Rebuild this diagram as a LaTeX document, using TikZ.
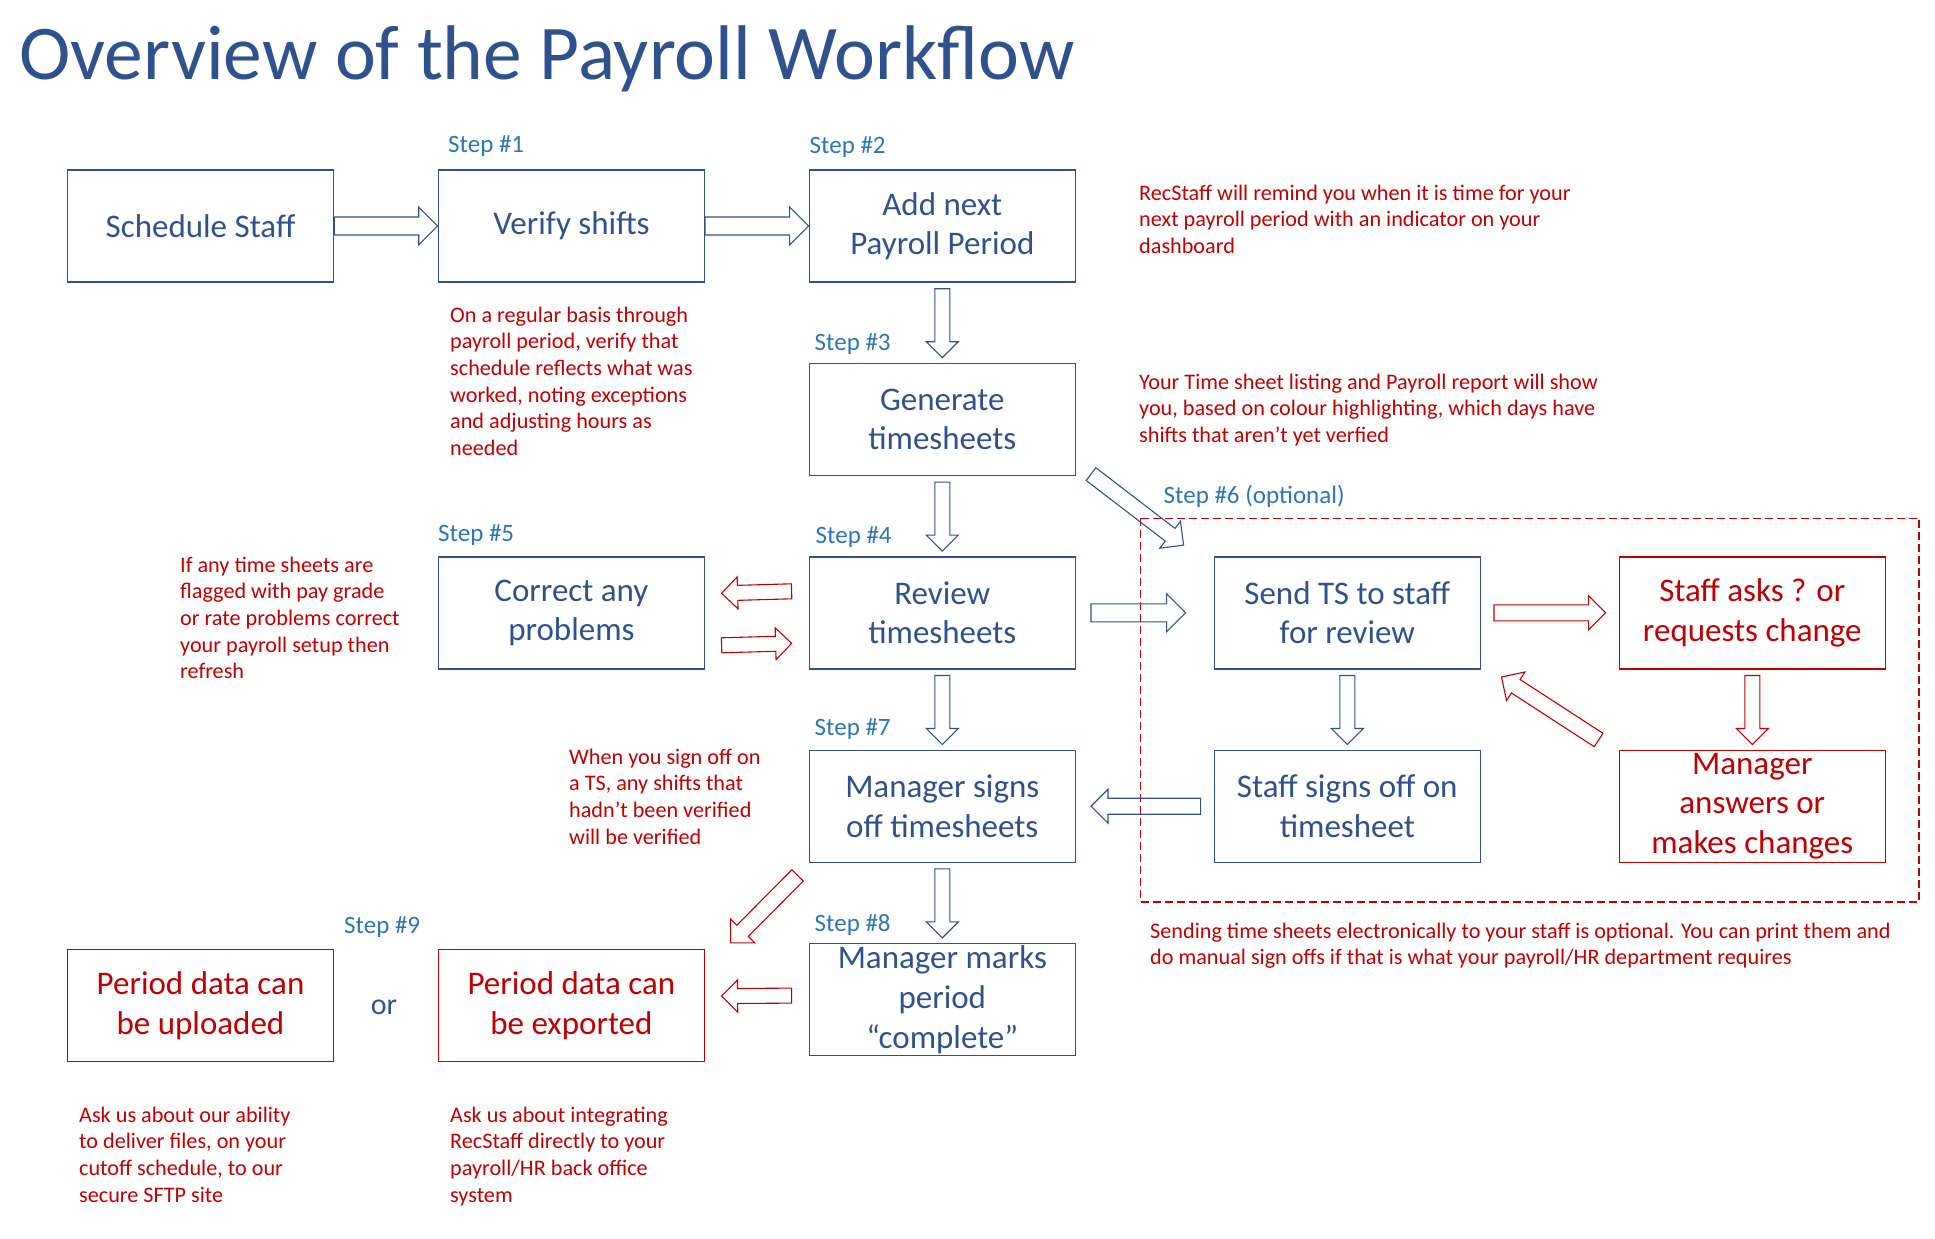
\documentclass[tikz,border=0pt]{standalone}
\usepackage{fontspec}
\setmainfont{Carlito}
\usepackage{tikz}
\usetikzlibrary{positioning, calc}
\definecolor{boxblue}{RGB}{47,82,143}
\definecolor{stepblue}{RGB}{46,117,182}
\definecolor{notered}{RGB}{192,0,0}
\tikzset{
  box/.style={
    rectangle, minimum width=266pt, minimum height=112pt,
    inner sep=0pt, align=center, line width=1.4pt,
    font=\fontsize{33}{39.6}\selectfont
  },
  bbox/.style={box, draw=boxblue, text=boxblue},
  rbox/.style={box, draw=notered, text=notered},
  barr/.style={draw=boxblue, line width=1.1pt, line join=miter},
  rarr/.style={barr, draw=notered},
  steplbl/.style={anchor=base west, inner sep=0pt, text=stepblue,
    font=\fontsize{25}{30}\selectfont},
  note/.style={anchor=base west, inner sep=0pt, align=left, text=notered,
    font=\fontsize{22.2}{26.7}\selectfont}
}
% hollow block arrow: [style]{from}{to}{half shaft width}
\newcommand{\blockarrow}[4][barr]{%
  \coordinate (ba-s) at (#2);
  \coordinate (ba-e) at (#3);
  \pgfmathsetlengthmacro{\bahead}{2*#4pt+1pt}
  \coordinate (ba-h) at ($(ba-e)!\bahead!(ba-s)$);
  \draw[#1] ($(ba-s)!#4pt!90:(ba-e)$) -- ($(ba-h)!#4pt!90:(ba-e)$)
    -- ($(ba-h)!\bahead!90:(ba-e)$) -- (ba-e)
    -- ($(ba-h)!\bahead!-90:(ba-e)$) -- ($(ba-h)!#4pt!-90:(ba-e)$)
    -- ($(ba-s)!#4pt!-90:(ba-e)$) -- cycle;
}

\begin{document}
\begin{tikzpicture}[x=1pt, y=-1pt]
  \useasboundingbox (0,0) rectangle (1935,1239);

  \node[anchor=base west, inner sep=0pt, text=boxblue,
        font=\fontsize{77.5}{92}\selectfont] (title) at (19,79)
        {Overview of the Payroll Workflow};

  % main flow
  \node[bbox] (sched) at (200.5,226) {Schedule Staff};
  \node[bbox, right=103.5pt of sched]   (verify)   {Verify shifts};
  \node[bbox, right=103.5pt of verify]  (addnext)  {Add next\\Payroll Period};
  \node[bbox, below=80pt of addnext]    (generate) {Generate\\timesheets};
  \node[bbox, below=80pt of generate]   (review)   {Review\\timesheets};
  \node[bbox, left=103.5pt of review]   (correct)  {Correct any\\problems};
  \node[bbox, below=80pt of review]     (mgrsigns) {Manager signs\\off timesheets};
  \node[bbox, below=80pt of mgrsigns]   (mgrmarks) {Manager marks\\period\\“complete”};
  \node[rbox, left=103.5pt of mgrmarks, yshift=-6pt] (exported) {Period data can\\be exported};
  \node[rbox, left=103.5pt of exported] (uploaded) {Period data can\\be uploaded};
  \node[text=boxblue, font=\fontsize{30}{36}\selectfont] (or) at (384,1007) {or};

  % optional staff review
  \node[bbox, right=137.6pt of review]    (sendts)     {Send TS to staff\\for review};
  \node[rbox, right=137.6pt of sendts]    (staffasks)  {Staff asks ? or\\requests change};
  \node[bbox, below=80pt of sendts]       (staffsigns) {Staff signs off on\\timesheet};
  \node[rbox, below=80pt of staffasks]    (mgranswers) {Manager\\answers or\\makes changes};
  \draw[notered, line width=1.2pt, dash pattern=on 8pt off 4pt]
    ($(sendts.north west)+(-73,-38)$) rectangle ($(mgranswers.south east)+(33,39)$);

  % step labels
  \node[steplbl] (s1) at (448,152)   {Step \#1};
  \node[steplbl] (s2) at (809.5,153) {Step \#2};
  \node[steplbl] (s3) at (814.5,350) {Step \#3};
  \node[steplbl] (s4) at (815.5,543) {Step \#4};
  \node[steplbl] (s5) at (438,541)   {Step \#5};
  \node[steplbl] (s6) at (1163.5,503) {Step \#6 (optional)};
  \node[steplbl] (s7) at (814.5,735) {Step \#7};
  \node[steplbl] (s8) at (814.5,931) {Step \#8};
  \node[steplbl] (s9) at (344,933)   {Step \#9};

  % notes (placed at the baseline of their last line)
  \node[note] (remind) at (1139,253.4) {RecStaff will remind you when it is time for your\\next payroll period with an indicator on your\\dashboard};
  \node[note] (regular) at (450,455.5) {On a regular basis through\\payroll period, verify that\\schedule reflects what was\\worked, noting exceptions\\and adjusting hours as\\needed};
  \node[note] (listing) at (1139,442.4) {Your Time sheet listing and Payroll report will show\\you, based on colour highlighting,  which days have\\shifts that aren’t yet verfied};
  \node[note] (flagged) at (180,678.8) {If any time sheets are\\flagged with pay grade\\or rate problems correct\\your payroll setup then\\refresh};
  \node[note] (signoff) at (569,844.1) {When you sign off on\\a TS, any shifts that\\hadn’t been verified\\will be verified};
  \node[note] (optional) at (1150,964.7) {Sending time sheets electronically to your staff is optional. You can print them and\\do manual sign offs if that is what your payroll/HR department requires};
  \node[note] (ability) at (79,1202.1) {Ask us about our ability\\to deliver files, on your\\cutoff schedule, to our\\secure SFTP site};
  \node[note] (integrate) at (450,1202.1) {Ask us about integrating\\RecStaff directly to your\\payroll/HR back office\\system};

  % arrows
  \blockarrow{sched.east}{verify.west}{9}
  \blockarrow{verify.east}{addnext.west}{9}
  \blockarrow{$(addnext.south)+(0,6)$}{$(generate.north)+(0,-5)$}{7.5}
  \blockarrow{$(generate.south)+(0,6)$}{$(review.north)+(0,-5)$}{7.5}
  \blockarrow{$(review.south)+(0,6)$}{$(mgrsigns.north)+(0,-5)$}{7.5}
  \blockarrow{$(mgrsigns.south)+(0,6)$}{$(mgrmarks.north)+(0,-5)$}{7.5}
  \blockarrow{$(generate.south east)+(15,-2)$}{$(sendts.north west)+(-30,-11)$}{8}
  \blockarrow{$(review.east)+(15,0)$}{$(sendts.west)+(-28,0)$}{9}
  \blockarrow[rarr]{$(review.west)+(-17,-21.5)$}{$(correct.east)+(16.5,-19.5)$}{7.5}
  \blockarrow[rarr]{$(correct.east)+(16.5,32.5)$}{$(review.west)+(-17,30.5)$}{7.5}
  \blockarrow[rarr]{$(sendts.east)+(13,0)$}{$(staffasks.west)+(-13,0)$}{8}
  \blockarrow[rarr]{$(staffasks.south)+(0,6)$}{$(mgranswers.north)+(0,-5)$}{7.5}
  \blockarrow[rarr]{$(mgranswers.north west)+(-20,-9.5)$}{$(sendts.south east)+(20.5,7.5)$}{8}
  \blockarrow{$(sendts.south)+(0,6)$}{$(staffsigns.north)+(0,-5)$}{7.5}
  \blockarrow{$(staffsigns.west)+(-13,0)$}{$(mgrsigns.east)+(15,0)$}{8}
  \blockarrow[rarr]{$(mgrsigns.south west)+(-11,12.5)$}{$(exported.north east)+(25.5,-6)$}{8}
  \blockarrow[rarr]{$(mgrmarks.west)+(-17,-4)$}{$(exported.east)+(16.5,-9.5)$}{7.5}
\end{tikzpicture}
\end{document}
